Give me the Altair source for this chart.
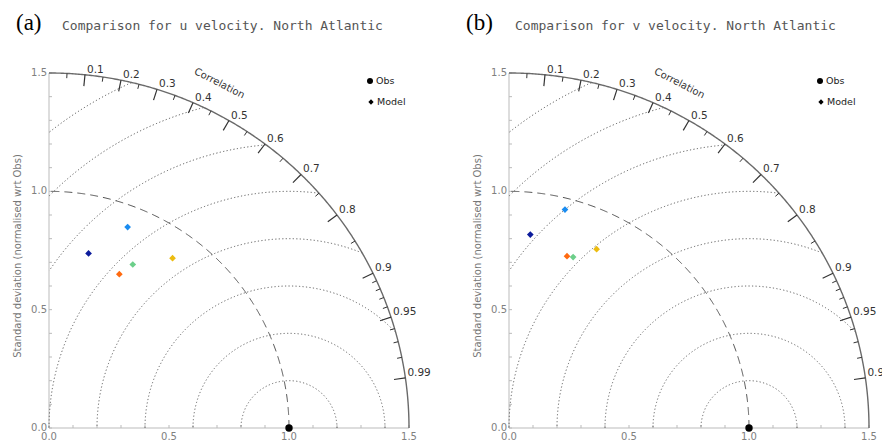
import numpy as np
import pandas as pd
import altair as alt

# ---------------- data ----------------
MODELS = ["Model 1", "Model 2", "Model 3", "Model 4", "Model 5"]
MODEL_COLORS = ["#0c1c9c", "#1a8cf0", "#6ccf8a", "#ff6a10", "#ecbc10"]

# panel (a): u velocity  (normalised std, correlation)
U_STD = [0.756, 0.910, 0.774, 0.713, 0.883]
U_CORR = [0.218, 0.360, 0.451, 0.411, 0.583]
# panel (b): v velocity
V_STD = [0.822, 0.952, 0.770, 0.765, 0.839]
V_CORR = [0.108, 0.245, 0.347, 0.316, 0.435]

OBS_STD = [1.0]
OBS_CORR = [1.0]

CORR_MAJOR = [0.1, 0.2, 0.3, 0.4, 0.5, 0.6, 0.7, 0.8, 0.9, 0.95, 0.99]
CORR_MINOR = [0.05, 0.15, 0.25, 0.35, 0.45, 0.55, 0.65, 0.75, 0.85,
              0.91, 0.92, 0.93, 0.94, 0.96, 0.97, 0.98]
RMS_LEVELS = [0.2, 0.4, 0.6, 0.8, 1.0, 1.2, 1.4, 1.6]
STD_TICKS = [round(0.1 * i, 1) for i in range(16)]
STD_LABELS = [0.0, 0.5, 1.0, 1.5]
STD_LABEL_TEXT = ["0.0", "0.5", "1.0", "1.5"]
MAX_STD = 1.5

TITLES = ["Comparison for u velocity. North Atlantic",
          "Comparison for v velocity. North Atlantic"]
LETTERS = ["(a)", "(b)"]
YTITLE = "Standard deviation (normalised wrt Obs)"

# ---------------- layout (pixels) ----------------
PW, PH = 437, 429          # each panel's drawing area
PX_X = 240.0               # pixels per unit, horizontal
PX_Y = 355.0 / 1.5         # pixels per unit, vertical
OY = 420                   # pixel row of std = 0
FONT = "DejaVu Sans"
AXC = "#bbbbbb"
LABC = "#808080"


def circle_frame(r):
    th = np.linspace(0, np.pi / 2, 361)
    return pd.DataFrame({"i": np.arange(th.size), "x": r * np.cos(th), "y": r * np.sin(th)})


def arc_frame():
    rows = []
    th = np.linspace(0, np.pi, 1441)
    for r in RMS_LEVELS:
        xx = 1.0 + r * np.cos(th)
        yy = r * np.sin(th)
        keep = (xx >= -1e-9) & (xx ** 2 + yy ** 2 <= MAX_STD ** 2 + 1e-9)
        for i, (a, b) in enumerate(zip(xx[keep], yy[keep])):
            rows.append({"lev": r, "i": i, "x": a, "y": b})
    return pd.DataFrame(rows)


def tick_frame(vals, length):
    c = np.array(vals)
    s = np.sqrt(1 - c ** 2)
    return pd.DataFrame({"x": MAX_STD * c, "y": MAX_STD * s,
                         "x2": (MAX_STD - length) * c, "y2": (MAX_STD - length) * s})


def panel(k, std, corr, ox, leg_x, letter_x, title_x):
    xs = alt.Scale(domain=[-ox / PX_X, (PW - ox) / PX_X], nice=False, zero=False)
    ys = alt.Scale(domain=[-(PH - OY) / PX_Y, OY / PX_Y], nice=False, zero=False)

    def X(f="x"):
        return alt.X(f + ":Q", scale=xs, axis=None)

    def Y(f="y"):
        return alt.Y(f + ":Q", scale=ys, axis=None)

    std = np.array(std); corr = np.array(corr)
    pts = pd.DataFrame({"model": MODELS, "x": std * corr, "y": std * np.sqrt(1 - corr ** 2)})
    obs = pd.DataFrame({"x": np.array(OBS_STD) * np.array(OBS_CORR),
                        "y": np.array(OBS_STD) * np.sqrt(1 - np.array(OBS_CORR) ** 2)})

    layers = []
    # axis lines
    layers.append(alt.Chart(pd.DataFrame({"x": [0.0], "x2": [MAX_STD], "y": [0.0]})).mark_rule(
        color=AXC, strokeWidth=1).encode(x=X(), x2="x2:Q", y=Y()))
    layers.append(alt.Chart(pd.DataFrame({"y": [0.0], "y2": [MAX_STD], "x": [0.0]})).mark_rule(
        color=AXC, strokeWidth=1).encode(y=Y(), y2="y2:Q", x=X()))
    # inward axis ticks
    tl = 3.0
    layers.append(alt.Chart(pd.DataFrame({"x": STD_TICKS, "y": 0.0, "y2": tl / PX_Y})).mark_rule(
        color=AXC).encode(x=X(), y=Y(), y2="y2:Q"))
    layers.append(alt.Chart(pd.DataFrame({"y": STD_TICKS, "x": 0.0, "x2": tl / PX_X})).mark_rule(
        color=AXC).encode(y=Y(), x=X(), x2="x2:Q"))
    # axis labels
    layers.append(alt.Chart(pd.DataFrame({"x": STD_LABELS, "t": STD_LABEL_TEXT})).mark_text(
        align="center", baseline="middle", font=FONT, fontSize=10, color=LABC).encode(
        x=X(), y=alt.value(OY + 9), text="t:N"))
    layers.append(alt.Chart(pd.DataFrame({"y": STD_LABELS, "t": STD_LABEL_TEXT})).mark_text(
        align="right", baseline="middle", font=FONT, fontSize=10, color=LABC).encode(
        y=Y(), x=alt.value(ox - 2), text="t:N"))
    layers.append(alt.Chart(pd.DataFrame({"t": [YTITLE]})).mark_text(
        angle=270, align="center", baseline="middle", font=FONT, fontSize=10, color="#777777").encode(
        x=alt.value(ox - 31), y=alt.value(248), text="t:N"))

    # RMS circles, obs std circle, outer boundary
    layers.append(alt.Chart(arc_frame()).mark_line(strokeDash=[1.2, 2.3], color="#555555", strokeWidth=1).encode(
        x=X(), y=Y(), detail="lev:N", order="i:Q"))
    layers.append(alt.Chart(circle_frame(1.0)).mark_line(strokeDash=[8, 5], color="#555555", strokeWidth=1).encode(
        x=X(), y=Y(), order="i:Q"))
    layers.append(alt.Chart(circle_frame(MAX_STD)).mark_line(color="#6a6a6a", strokeWidth=1.4).encode(
        x=X(), y=Y(), order="i:Q"))
    # correlation ticks and labels
    layers.append(alt.Chart(tick_frame(CORR_MINOR, 0.02)).mark_rule(color="#333333", strokeWidth=1).encode(
        x=X(), y=Y(), x2="x2:Q", y2="y2:Q"))
    layers.append(alt.Chart(tick_frame(CORR_MAJOR, 0.048)).mark_rule(color="#333333", strokeWidth=1.2).encode(
        x=X(), y=Y(), x2="x2:Q", y2="y2:Q"))
    c = np.array(CORR_MAJOR)
    lab_df = pd.DataFrame({"x": MAX_STD * c, "y": MAX_STD * np.sqrt(1 - c ** 2),
                           "t": [str(v) for v in CORR_MAJOR]})
    layers.append(alt.Chart(lab_df).mark_text(align="left", baseline="middle", dx=2, dy=-5, clip=True,
                                              font=FONT, fontSize=10.5, color="#333333").encode(
        x=X(), y=Y(), text="t:N"))
    ang = np.deg2rad(64.0)
    layers.append(alt.Chart(pd.DataFrame({"x": [1.62 * np.cos(ang)], "y": [1.62 * np.sin(ang)],
                                          "t": ["Correlation"]})).mark_text(
        angle=27, font=FONT, fontSize=10, color="#333333").encode(x=X(), y=Y(), text="t:N"))

    # points
    layers.append(alt.Chart(obs).mark_point(shape="circle", filled=True, color="black", size=55, opacity=1).encode(
        x=X(), y=Y()))
    layers.append(alt.Chart(pts).mark_point(shape="diamond", filled=True, size=45, opacity=1).encode(
        x=X(), y=Y(),
        color=alt.Color("model:N", scale=alt.Scale(domain=MODELS, range=MODEL_COLORS), legend=None)))

    # legend
    one = pd.DataFrame({"t": [""]})
    layers.append(alt.Chart(one).mark_point(shape="circle", filled=True, color="black", size=36, opacity=1).encode(
        x=alt.value(leg_x), y=alt.value(73)))
    layers.append(alt.Chart(one).mark_point(shape="diamond", filled=True, color="black", size=28, opacity=1).encode(
        x=alt.value(leg_x + 1), y=alt.value(94)))
    layers.append(alt.Chart(pd.DataFrame({"t": ["Obs"]})).mark_text(
        align="left", baseline="middle", font=FONT, fontSize=9.5, color="#222222").encode(
        x=alt.value(leg_x + 6), y=alt.value(73), text="t:N"))
    layers.append(alt.Chart(pd.DataFrame({"t": ["Model"]})).mark_text(
        align="left", baseline="middle", font=FONT, fontSize=9.5, color="#222222").encode(
        x=alt.value(leg_x + 7), y=alt.value(94), text="t:N"))

    # headings
    layers.append(alt.Chart(pd.DataFrame({"t": [LETTERS[k]]})).mark_text(
        align="left", baseline="alphabetic", font="Liberation Serif", fontSize=23, color="#000000").encode(
        x=alt.value(letter_x), y=alt.value(22), text="t:N"))
    layers.append(alt.Chart(pd.DataFrame({"t": [TITLES[k]]})).mark_text(
        align="left", baseline="alphabetic", font="DejaVu Sans Mono", fontSize=13, color="#555555").encode(
        x=alt.value(title_x), y=alt.value(22), text="t:N"))

    return alt.layer(*layers).properties(width=PW, height=PH)


pa = panel(0, U_STD, U_CORR, ox=41, leg_x=362, letter_x=8, title_x=54)
pb = panel(1, V_STD, V_CORR, ox=64, leg_x=375, letter_x=21, title_x=70)

chart = alt.hconcat(pa, pb, spacing=0, bounds="flush", padding=0).configure_view(stroke=None)

chart.save("out.html", embed_options={"renderer": "svg", "actions": False})
